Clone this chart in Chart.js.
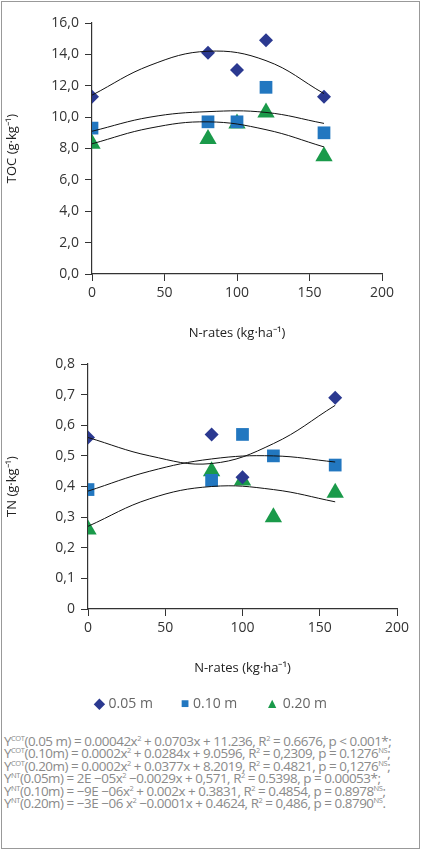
<!DOCTYPE html>
<html><head><meta charset="utf-8">
<script src="https://cdn.jsdelivr.net/npm/chart.js@4"></script>
<style>
body{margin:0;background:#fff;font-family:"Open Sans",sans-serif;}
#frame{position:absolute;left:1px;top:1px;width:417px;height:846px;border:1px solid #999;}
.c{position:absolute;left:0;width:421px;}
#legend{position:absolute;top:693px;left:0;width:421px;text-align:center;font-size:14px;color:#666;}
#legend span{margin:0 14px;}
#eq{position:absolute;left:4px;top:735px;font-size:13.4px;line-height:12.4px;color:#8a8a8a;letter-spacing:-0.45px;white-space:nowrap;}
#eq sup{font-size:7.5px;line-height:0;vertical-align:5px;}
</style></head><body>
<div id="frame"></div>
<div class="c" style="top:0;height:345px"><canvas id="c1"></canvas></div>
<div class="c" style="top:340px;height:340px"><canvas id="c2"></canvas></div>
<div id="legend"><span><b style="color:#2b3990">◆</b> 0.05 m</span><span><b style="color:#2277c0">■</b> 0.10 m</span><span><b style="color:#1a9a4a">▲</b> 0.20 m</span></div>
<div id="eq">
Y<sup>COT</sup>(0.05 m) = 0.00042x<sup>2</sup> + 0.0703x + 11.236, R<sup>2</sup> = 0.6676, p &lt; 0.001*;<br>
Y<sup>COT</sup>(0.10m) = 0.0002x<sup>2</sup> + 0.0284x + 9.0596, R<sup>2</sup> = 0,2309, p = 0.1276<sup>NS</sup>;<br>
Y<sup>COT</sup>(0.20m) = 0.0002x<sup>2</sup> + 0.0377x + 8.2019, R<sup>2</sup> = 0.4821, p = 0,1276<sup>NS</sup>;<br>
Y<sup>NT</sup>(0.05m) = 2E −05x<sup>2</sup> −0.0029x + 0,571, R<sup>2</sup> = 0.5398, p = 0.00053*;<br>
Y<sup>NT</sup>(0.10m) = −9E −06x<sup>2</sup> + 0.002x + 0.3831, R<sup>2</sup> = 0.4854, p = 0.8978<sup>NS</sup>;<br>
Y<sup>NT</sup>(0.20m) = −3E −06 x<sup>2</sup> −0.0001x + 0.4624, R<sup>2</sup> = 0,486, p = 0.8790<sup>NS</sup>.
</div>
<script>
const seriesNames=["0.05 m","0.10 m","0.20 m"];
const colors=["#2b3990","#2277c0","#1a9a4a"];
const tocX=[[0,80,100,120,160],[0,80,100,120,160],[0,80,100,120,160]];
const tocY=[[11.3,14.1,13.0,14.9,11.3],[9.3,9.7,9.7,11.9,9.0],[8.3,8.6,9.6,10.3,7.5]];
const tocCurveX=[0,40,80,120,160];
const tocCurveY=[[11.4,13.3,14.2,13.6,11.5],[9.1,10.0,10.35,10.3,9.6],[8.3,9.3,9.7,9.2,8.1]];
const tnX=[[0,80,100,160],[0,80,100,120,160],[0,80,100,120,160]];
const tnY=[[0.56,0.57,0.43,0.69],[0.39,0.42,0.57,0.50,0.47],[0.26,0.45,0.42,0.30,0.38]];
const tnCurveX=[0,40,80,120,160];
const tnCurveY=[[0.56,0.50,0.475,0.54,0.665],[0.385,0.45,0.49,0.50,0.48],[0.27,0.36,0.40,0.39,0.35]];
const styles=["rectRot","rect","triangle"];
const radii=[7,9,10];

function build(id,xs,ys,cx,cy,ymax,step,fmt,ytitle,pad,ywidth,xh){
  const ds=[];
  for(let i=0;i<3;i++){
    ds.push({label:seriesNames[i],data:xs[i].map((x,j)=>({x,y:ys[i][j]})),showLine:false,
      pointStyle:styles[i],pointRadius:radii[i],backgroundColor:colors[i],borderColor:colors[i],borderWidth:0,order:1});
    ds.push({label:"fit",data:cx.map((x,j)=>({x,y:cy[i][j]})),showLine:true,pointRadius:0,
      borderColor:"#111",borderWidth:1,tension:0.4,fill:false,order:0});
  }
  new Chart(document.getElementById(id),{type:"scatter",data:{datasets:ds},
    options:{responsive:true,maintainAspectRatio:false,animation:false,
      layout:{padding:pad},
      plugins:{legend:{display:false},tooltip:{enabled:false}},
      scales:{
        x:{type:"linear",min:0,max:200,afterFit:s=>{s.height=xh;},
          ticks:{stepSize:50,color:"#333",font:{size:14,family:"Open Sans"},padding:4},
          grid:{drawOnChartArea:false,drawTicks:true,tickLength:7,color:"#333"},border:{color:"#333",width:1.2},
          title:{display:true,text:"N-rates (kg·ha⁻¹)",color:"#222",font:{size:13,family:"Open Sans"},padding:{top:14}}},
        y:{min:0,max:ymax,afterFit:s=>{s.width=ywidth;},
          ticks:{stepSize:step,color:"#333",font:{size:14,family:"Open Sans"},callback:fmt,padding:6},
          grid:{drawOnChartArea:false,drawTicks:true,tickLength:7,color:"#333"},border:{color:"#333",width:1.2},
          title:{display:true,text:ytitle,color:"#222",font:{size:13,family:"Open Sans"}}}
      }}});
}
build("c1",tocX,tocY,tocCurveX,tocCurveY,16,2,v=>v.toFixed(1).replace(".",","),"TOC (g·kg⁻¹)",{top:23,right:39,left:0,bottom:0},92,71);
build("c2",tnX,tnY,tnCurveX,tnCurveY,0.8,0.1,v=>v===0?"0":v.toFixed(1).replace(".",","),"TN (g·kg⁻¹)",{top:24,right:24,left:0,bottom:0},88,71);
</script>
</body></html>
